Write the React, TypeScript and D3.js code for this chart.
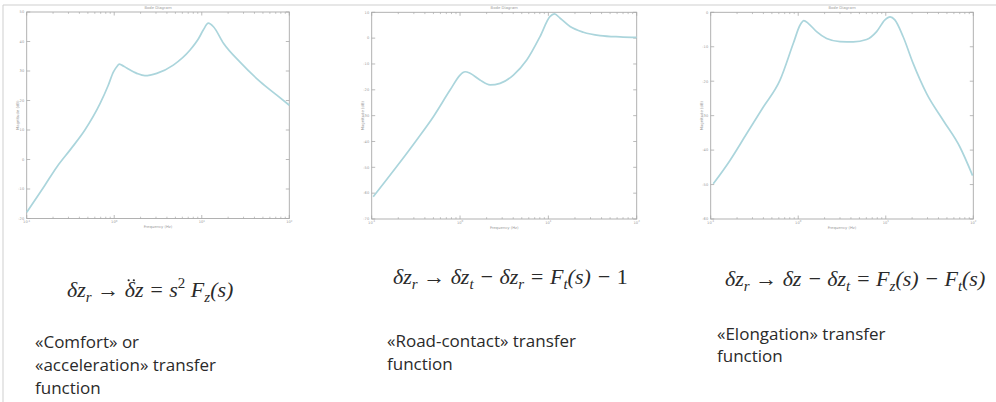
import React, { useLayoutEffect, useRef, useState } from "react";
import * as d3 from "d3";

// Frequency axis (Hz), shared by the three Bode magnitude plots
const FREQ_DOMAIN = [0.1, 100];
const FREQ_MAJOR = [0.1, 1, 10, 100];
const FREQ_MAJOR_EXP = ["-1", "0", "1", "2"];

// «Comfort» / acceleration: s^2 Fz(s)
const COMFORT_FREQ = [0.1, 0.16, 0.22, 0.32, 0.46, 0.69, 0.85, 0.98, 1.08, 1.14, 1.22, 1.39, 1.81, 2.24, 3.06, 4.73, 7.35, 9.2, 10.4, 11.9, 13.6, 17.7, 27.4, 46.4, 72, 100];
const COMFORT_DB = [-17.9, -8.9, -2.6, 3.6, 9.9, 19.0, 25.0, 29.7, 31.6, 32.3, 32.0, 31.0, 29.2, 28.4, 29.2, 32.0, 37.1, 41.0, 43.9, 46.2, 45.0, 39.4, 33.0, 26.4, 21.8, 18.4];
const COMFORT_Y_TICKS = [-20, -10, 0, 10, 20, 30, 40, 50];

// «Road-contact»: Ft(s) - 1
const ROAD_FREQ = [0.104, 0.192, 0.323, 0.499, 0.771, 1.0, 1.08, 1.14, 1.3, 1.68, 2.19, 2.84, 4.02, 5.69, 8.05, 10.4, 11.7, 13.6, 17.6, 24.9, 38.5, 64.7, 100];
const ROAD_DB = [-61.4, -49.7, -39.4, -30.4, -20.1, -14.3, -13.3, -13.0, -13.6, -16.2, -18.1, -17.5, -14.3, -8.5, 0.6, 8.3, 9.4, 7.7, 4.5, 2.3, 1.0, 0.5, 0.3];
const ROAD_Y_TICKS = [-70, -60, -50, -40, -30, -20, -10, 0, 10];

// «Elongation»: Fz(s) - Ft(s)
const ELONG_FREQ = [0.107, 0.166, 0.258, 0.399, 0.619, 0.879, 1.05, 1.16, 1.3, 1.62, 2.11, 3.0, 4.26, 6.04, 7.86, 9.79, 11.2, 12.7, 15.8, 20.6, 29.3, 45.4, 70.3, 98.2];
const ELONG_DB = [-49.8, -43.0, -35.2, -27.5, -19.7, -9.0, -3.7, -2.4, -3.2, -5.6, -7.6, -8.5, -8.6, -7.9, -5.6, -2.2, -1.3, -2.2, -7.1, -14.9, -23.6, -31.4, -39.1, -47.4];
const ELONG_Y_TICKS = [-60, -50, -40, -30, -20, -10, 0];

const AXIS_COLOR = "#a9a9a9";
const LABEL_COLOR = "#999";
const CURVE_COLOR = "#abd5dc";

type BodeProps = {
  x0: number;
  x1: number;
  y0: number;
  y1: number;
  freq: number[];
  db: number[];
  yTicks: number[];
};

function BodePlot({ x0, x1, y0, y1, freq, db, yTicks }: BodeProps) {
  const x = d3.scaleLog().domain(FREQ_DOMAIN).range([x0, x1]);
  const y = d3
    .scaleLinear()
    .domain([yTicks[0], yTicks[yTicks.length - 1]])
    .range([y1, y0]);

  const pts = freq.map((f, i) => [f, db[i]] as [number, number]);
  const line = d3
    .line<[number, number]>()
    .x((d) => x(d[0]))
    .y((d) => y(d[1]))
    .curve(d3.curveMonotoneX);

  const minor: number[] = [];
  for (let dec = 0.1; dec < 100; dec *= 10) {
    for (let k = 2; k <= 9; k++) minor.push(dec * k);
  }

  const cx = (x0 + x1) / 2;
  const cy = (y0 + y1) / 2;

  return (
    <g>
      <rect x={x0} y={y0} width={x1 - x0} height={y1 - y0} fill="none" stroke={AXIS_COLOR} strokeWidth={0.9} />
      {FREQ_MAJOR.map((f) => (
        <g key={"M" + f}>
          <line x1={x(f)} x2={x(f)} y1={y1} y2={y1 - 3.5} stroke={AXIS_COLOR} strokeWidth={0.8} />
          <line x1={x(f)} x2={x(f)} y1={y0} y2={y0 + 3.5} stroke={AXIS_COLOR} strokeWidth={0.8} />
        </g>
      ))}
      {minor.map((f) => (
        <g key={"m" + f}>
          <line x1={x(f)} x2={x(f)} y1={y1} y2={y1 - 1.8} stroke={AXIS_COLOR} strokeWidth={0.7} />
          <line x1={x(f)} x2={x(f)} y1={y0} y2={y0 + 1.8} stroke={AXIS_COLOR} strokeWidth={0.7} />
        </g>
      ))}
      {yTicks.map((t) => (
        <g key={"y" + t}>
          <line x1={x0} x2={x0 + 3.5} y1={y(t)} y2={y(t)} stroke={AXIS_COLOR} strokeWidth={0.8} />
          <line x1={x1} x2={x1 - 3.5} y1={y(t)} y2={y(t)} stroke={AXIS_COLOR} strokeWidth={0.8} />
          <text x={x0 - 2.5} y={y(t) + 1.3} fontSize={3.6} fill={LABEL_COLOR} textAnchor="end" fontFamily="DejaVu Sans">
            {t}
          </text>
        </g>
      ))}
      {FREQ_MAJOR.map((f, i) => (
        <text key={"xl" + f} x={x(f)} y={y1 + 4.5} fontSize={3.6} fill={LABEL_COLOR} textAnchor="middle" fontFamily="DejaVu Sans">
          10
          <tspan dy={-1.5} fontSize={2.6}>
            {FREQ_MAJOR_EXP[i]}
          </tspan>
        </text>
      ))}
      <text x={cx} y={y0 - 3.5} fontSize={3.8} fill={LABEL_COLOR} textAnchor="middle" fontFamily="DejaVu Sans">
        Bode Diagram
      </text>
      <text x={cx} y={y1 + 9.5} fontSize={3.8} fill={LABEL_COLOR} textAnchor="middle" fontFamily="DejaVu Sans">
        Frequency (Hz)
      </text>
      <text
        x={0}
        y={0}
        transform={`translate(${x0 - 8},${cy}) rotate(-90)`}
        fontSize={3.8}
        fill={LABEL_COLOR}
        textAnchor="middle"
        fontFamily="DejaVu Sans"
      >
        Magnitude (dB)
      </text>
      <path d={line(pts) ?? ""} fill="none" stroke={CURVE_COLOR} strokeWidth={1.7} strokeLinejoin="round" />
    </g>
  );
}

const MATH_FONT = "Liberation Serif";
const TEXT_FONT = "Open Sans";
const TEXT_COLOR = "#2a2a2a";

export default function App() {
  const mathProps = { fontFamily: MATH_FONT, fontStyle: "italic" as const, fontSize: 22, fill: TEXT_COLOR };
  const textProps = { fontFamily: TEXT_FONT, fontSize: 17, fill: TEXT_COLOR };
  const sub = 15;

  // second time-derivative dots placed over the δ of the acceleration term
  const deltaRef = useRef<SVGTSpanElement>(null);
  const [dots, setDots] = useState<{ x: number; y: number } | null>(null);
  useLayoutEffect(() => {
    const el = deltaRef.current;
    if (!el) return;
    const b = el.getBBox();
    setDots({ x: b.x + b.width * 0.6, y: b.y + b.height * 0.13 });
  }, []);

  return (
    <div style={{ position: "absolute", left: 0, top: 0 }}>
      <svg width={996} height={402} viewBox="0 0 996 402" style={{ display: "block", background: "#fff" }}>
        <rect x={0} y={0} width={996} height={402} fill="#fff" />
        {/* slide frame */}
        <line x1={3} x2={996} y1={5} y2={5} stroke="#cfcfcf" strokeWidth={1} />
        <line x1={3} x2={3} y1={5} y2={402} stroke="#cfcfcf" strokeWidth={1} />

        <BodePlot x0={26.7} x1={289.3} y0={12} y1={218.5} freq={COMFORT_FREQ} db={COMFORT_DB} yTicks={COMFORT_Y_TICKS} />
        <BodePlot x0={371.7} x1={636.7} y0={12.3} y1={219} freq={ROAD_FREQ} db={ROAD_DB} yTicks={ROAD_Y_TICKS} />
        <BodePlot x0={710.7} x1={973.3} y0={12.3} y1={219} freq={ELONG_FREQ} db={ELONG_DB} yTicks={ELONG_Y_TICKS} />

        {/* transfer function 1 */}
        <text x={67} y={297} {...mathProps}>
          δz
          <tspan dy={5} fontSize={sub}>r</tspan>
          <tspan dy={-5}>{" \u2192 "}</tspan>
          <tspan ref={deltaRef}>δ</tspan>
          <tspan>{"z = s"}</tspan>
          <tspan dy={-9} fontSize={sub} fontStyle="normal">2</tspan>
          <tspan dy={9}>{" F"}</tspan>
          <tspan dy={5} fontSize={sub}>z</tspan>
          <tspan dy={-5}>(s)</tspan>
        </text>
        {dots && (
          <g fill={TEXT_COLOR}>
            <circle cx={dots.x - 2.6} cy={dots.y} r={1.1} />
            <circle cx={dots.x + 2.6} cy={dots.y} r={1.1} />
          </g>
        )}
        <text x={35} y={348} {...textProps}>«Comfort» or</text>
        <text x={35} y={371} {...textProps}>«acceleration» transfer</text>
        <text x={35} y={394} {...textProps}>function</text>

        {/* transfer function 2 */}
        <text x={393} y={284} {...mathProps}>
          δz
          <tspan dy={5} fontSize={sub}>r</tspan>
          <tspan dy={-5}>{" \u2192 δz"}</tspan>
          <tspan dy={5} fontSize={sub}>t</tspan>
          <tspan dy={-5}>{" \u2212 δz"}</tspan>
          <tspan dy={5} fontSize={sub}>r</tspan>
          <tspan dy={-5}>{" = F"}</tspan>
          <tspan dy={5} fontSize={sub}>t</tspan>
          <tspan dy={-5}>{"(s) \u2212 "}</tspan>
          <tspan fontStyle="normal">1</tspan>
        </text>
        <text x={387} y={347} {...textProps}>«Road-contact» transfer</text>
        <text x={387} y={370} {...textProps}>function</text>

        {/* transfer function 3 */}
        <text x={725} y={286} {...mathProps}>
          δz
          <tspan dy={5} fontSize={sub}>r</tspan>
          <tspan dy={-5}>{" \u2192 δz \u2212 δz"}</tspan>
          <tspan dy={5} fontSize={sub}>t</tspan>
          <tspan dy={-5}>{" = F"}</tspan>
          <tspan dy={5} fontSize={sub}>z</tspan>
          <tspan dy={-5}>{"(s) \u2212 F"}</tspan>
          <tspan dy={5} fontSize={sub}>t</tspan>
          <tspan dy={-5}>(s)</tspan>
        </text>
        <text x={717} y={340} {...textProps}>«Elongation» transfer</text>
        <text x={717} y={362} {...textProps}>function</text>
      </svg>
    </div>
  );
}
